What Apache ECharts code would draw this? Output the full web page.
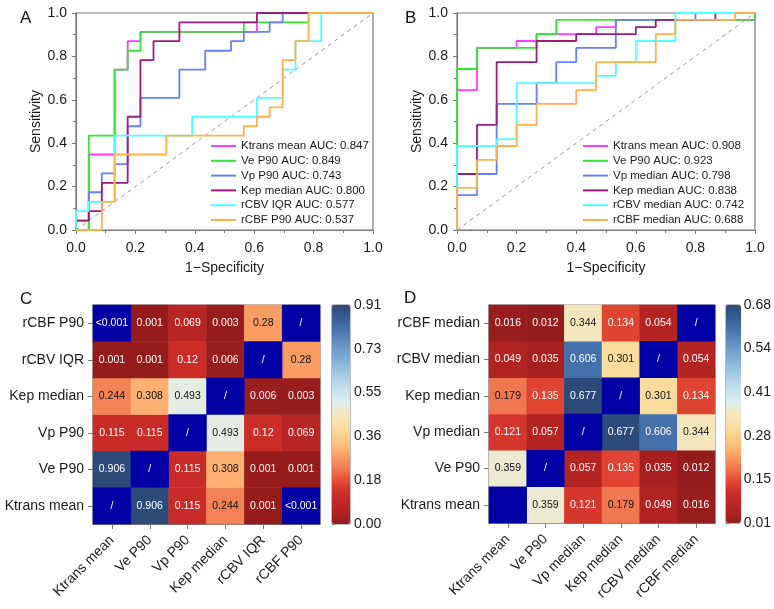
<!DOCTYPE html>
<html>
<head>
<meta charset="utf-8">
<script src="https://cdn.jsdelivr.net/npm/echarts@6/dist/echarts.min.js"></script>
<style>
  html, body { margin: 0; padding: 0; background: #fff; }
  #main { width: 774px; height: 609px; }
</style>
</head>
<body>
<div id="main"></div>
<script>
// ---- ROC curves, panel A ----
const rocA_ktrans = [[0,0],[0.043,0],[0.043,0.348],[0.13,0.348],[0.13,0.739],[0.174,0.739],[0.174,0.87],[0.217,0.87],[0.217,0.913],[0.609,0.913],[0.609,1],[1,1]];
const rocA_ve = [[0,0],[0.043,0],[0.043,0.435],[0.13,0.435],[0.13,0.739],[0.174,0.739],[0.174,0.826],[0.217,0.826],[0.217,0.913],[0.565,0.913],[0.565,0.957],[0.783,0.957],[0.783,1],[1,1]];
const rocA_vp = [[0,0],[0,0.043],[0.043,0.043],[0.043,0.174],[0.087,0.174],[0.087,0.261],[0.13,0.261],[0.13,0.304],[0.174,0.304],[0.174,0.478],[0.217,0.478],[0.217,0.609],[0.348,0.609],[0.348,0.739],[0.435,0.739],[0.435,0.826],[0.522,0.826],[0.522,0.87],[0.565,0.87],[0.565,0.913],[0.652,0.913],[0.652,0.957],[0.696,0.957],[0.696,1],[1,1]];
const rocA_kep = [[0,0],[0,0.043],[0.043,0.043],[0.043,0.087],[0.087,0.087],[0.087,0.217],[0.174,0.217],[0.174,0.522],[0.217,0.522],[0.217,0.783],[0.261,0.783],[0.261,0.87],[0.348,0.87],[0.348,0.957],[0.609,0.957],[0.609,1],[1,1]];
const rocA_rcbv = [[0,0],[0,0.087],[0.043,0.087],[0.043,0.13],[0.13,0.13],[0.13,0.435],[0.391,0.435],[0.391,0.522],[0.609,0.522],[0.609,0.609],[0.696,0.609],[0.696,0.739],[0.739,0.739],[0.739,0.87],[0.826,0.87],[0.826,1],[1,1]];
const rocA_rcbf = [[0,0],[0.087,0],[0.087,0.13],[0.13,0.13],[0.13,0.348],[0.304,0.348],[0.304,0.435],[0.565,0.435],[0.565,0.478],[0.609,0.478],[0.609,0.522],[0.652,0.522],[0.652,0.565],[0.696,0.565],[0.696,0.783],[0.739,0.783],[0.739,0.87],[0.783,0.87],[0.783,1],[1,1]];
const namesA = ['Ktrans mean AUC: 0.847','Ve P90 AUC: 0.849','Vp P90 AUC: 0.743','Kep median AUC: 0.800','rCBV IQR AUC: 0.577','rCBF P90 AUC: 0.537'];

// ---- ROC curves, panel B ----
const rocB_ktrans = [[0,0],[0,0.645],[0.067,0.645],[0.067,0.839],[0.2,0.839],[0.2,0.871],[0.267,0.871],[0.267,0.903],[0.467,0.903],[0.467,0.935],[0.533,0.935],[0.533,0.968],[1,0.968],[1,1]];
const rocB_ve = [[0,0],[0,0.742],[0.067,0.742],[0.067,0.839],[0.267,0.839],[0.267,0.903],[0.333,0.903],[0.333,0.968],[1,0.968],[1,1]];
const rocB_vp = [[0,0],[0,0.161],[0.067,0.161],[0.067,0.258],[0.133,0.258],[0.133,0.581],[0.267,0.581],[0.267,0.677],[0.333,0.677],[0.333,0.774],[0.4,0.774],[0.4,0.839],[0.533,0.839],[0.533,0.968],[0.8,0.968],[0.8,1],[1,1]];
const rocB_kep = [[0,0],[0,0.258],[0.067,0.258],[0.067,0.484],[0.133,0.484],[0.133,0.774],[0.267,0.774],[0.267,0.871],[0.4,0.871],[0.4,0.903],[0.6,0.903],[0.6,0.935],[0.667,0.935],[0.667,0.968],[0.867,0.968],[0.867,1],[1,1]];
const rocB_rcbv = [[0,0],[0,0.387],[0.133,0.387],[0.133,0.419],[0.2,0.419],[0.2,0.677],[0.467,0.677],[0.467,0.71],[0.533,0.71],[0.533,0.774],[0.6,0.774],[0.6,0.871],[0.733,0.871],[0.733,1],[1,1]];
const rocB_rcbf = [[0,0],[0,0.194],[0.067,0.194],[0.067,0.323],[0.133,0.323],[0.133,0.387],[0.2,0.387],[0.2,0.484],[0.267,0.484],[0.267,0.581],[0.4,0.581],[0.4,0.645],[0.467,0.645],[0.467,0.774],[0.667,0.774],[0.667,0.903],[0.733,0.903],[0.733,0.968],[0.933,0.968],[0.933,1],[1,1]];
const namesB = ['Ktrans mean AUC: 0.908','Ve P90 AUC: 0.923','Vp median AUC: 0.798','Kep median AUC: 0.838','rCBV median AUC: 0.742','rCBF median AUC: 0.688'];

const rocColors = ['#ff3cff','#33e633','#6680ff','#9a1d78','#4dffff','#ffb04a'];
const diagonal = [[0,0],[1,1]];

// ---- p-value matrices (rows bottom -> top, same order as categories) ----
const catsC = ['Ktrans mean','Ve P90','Vp P90','Kep median','rCBV IQR','rCBF P90'];
const pC_ktrans = ['/', 0.906, 0.115, 0.244, 0.001, '<0.001'];
const pC_ve     = [0.906, '/', 0.115, 0.308, 0.001, 0.001];
const pC_vp     = [0.115, 0.115, '/', 0.493, 0.12, 0.069];
const pC_kep    = [0.244, 0.308, 0.493, '/', 0.006, 0.003];
const pC_rcbv   = [0.001, 0.001, 0.12, 0.006, '/', 0.28];
const pC_rcbf   = ['<0.001', 0.001, 0.069, 0.003, 0.28, '/'];
const barTicksC = ['0.00','0.18','0.36','0.55','0.73','0.91'];

const catsD = ['Ktrans mean','Ve P90','Vp median','Kep median','rCBV median','rCBF median'];
const pD_ktrans = ['', 0.359, 0.121, 0.179, 0.049, 0.016];
const pD_ve     = [0.359, '/', 0.057, 0.135, 0.035, 0.012];
const pD_vp     = [0.121, 0.057, '/', 0.677, 0.606, 0.344];
const pD_kep    = [0.179, 0.135, 0.677, '/', 0.301, 0.134];
const pD_rcbv   = [0.049, 0.035, 0.606, 0.301, '/', 0.054];
const pD_rcbf   = [0.016, 0.012, 0.344, 0.134, 0.054, '/'];
const barTicksD = ['0.01','0.15','0.28','0.41','0.54','0.68'];

const heatColors = ['#951c1c','#ae2222','#c02826','#d02e29','#e54f36','#f07650','#f89860','#fdb877','#fbcf8c','#f8e0a4','#f5e7bd','#e0eeec','#cbe3ec','#b5d5e8','#9ac4e0','#80aed6','#6c9ccc','#5684bb','#426ea8','#36598e','#2c4a77'];
const naColor = '#0000a4';

const FONT = "'Liberation Sans', Arial, Helvetica, sans-serif";
const GREY = '#7a7a7a';

let chart = echarts.init(document.getElementById('main'), null, {renderer: 'canvas'});

function rocAxes(idx, isY, name) {
    return {
        type: 'value', gridIndex: idx, min: 0, max: 1, interval: 0.2,
        name: name, nameLocation: 'middle', nameGap: isY ? 33 : 31,
        nameTextStyle: {fontSize: 14, color: '#1a1a1a'},
        axisLine: {show: true, lineStyle: {color: GREY, width: 1.2}},
        axisTick: {show: true, length: 4, lineStyle: {color: GREY}},
        minorTick: {show: true, splitNumber: 2, length: 3, lineStyle: {color: GREY}},
        splitLine: {show: false},
        axisLabel: {fontSize: 14, color: '#1a1a1a', margin: isY ? 9 : 11, formatter: v => v.toFixed(1)}
    };
}

function rocSeries(data, i, names, axis) {
    return {
        type: 'line', name: names[i], data: data,
        xAxisIndex: axis, yAxisIndex: axis,
        symbol: 'none', animation: false, silent: true,
        itemStyle: {color: rocColors[i]},
        lineStyle: {color: rocColors[i], width: 1.8}
    };
}

function diagSeries(axis) {
    return {
        type: 'line', data: diagonal, xAxisIndex: axis, yAxisIndex: axis,
        symbol: 'none', silent: true, animation: false,
        lineStyle: {color: '#9a9a9a', width: 1, type: [4, 4]}
    };
}

// numeric cells go to the coloured heatmap, text cells ("/", "<0.001") to the navy one
function heatData(rows, min, max, wantNumbers) {
    let out = [];
    rows.forEach((row, i) => {
        row.forEach((c, j) => {
            let num = typeof c === 'number';
            if (num !== wantNumbers) return;
            let t = num ? (c - min) / (max - min) : 0;
            out.push({
                value: [j, i, num ? c : 1],
                txt: num ? String(c) : c,
                dark: num && t > 0.22 && t < 0.75
            });
        });
    });
    return out;
}

function heatCatAxes(idx, cats, isY) {
    return {
        type: 'category', gridIndex: idx, data: cats,
        axisLine: {show: true, lineStyle: {color: GREY, width: 1.2}},
        axisTick: {show: true, alignWithLabel: true, length: 5, lineStyle: {color: GREY}},
        splitLine: {show: false},
        axisLabel: isY
            ? {fontSize: 14, color: '#1a1a1a', margin: 9}
            : {fontSize: 14, color: '#1a1a1a', margin: 14, rotate: 45, interval: 0}
    };
}

function barAxes(idx, ticks) {
    return {
        type: 'category', gridIndex: idx, data: ticks, boundaryGap: false,
        position: 'right',
        axisLine: {show: false},
        axisTick: {show: true, length: 3, lineStyle: {color: GREY}},
        axisLabel: {fontSize: 14, color: '#1a1a1a', margin: 4, interval: 0},
        splitLine: {show: false}
    };
}

const heatLabel = {
    show: true,
    formatter: p => (p.data.dark ? '{k|' : '{w|') + p.data.txt + '}',
    rich: {
        w: {color: '#ffffff', fontSize: 10.5, fontFamily: FONT},
        k: {color: '#111111', fontSize: 10.5, fontFamily: FONT}
    }
};

function legendAt(names, left) {
    return {
        data: names, orient: 'vertical', left: left, top: 139,
        icon: 'rect', itemWidth: 25, itemHeight: 2, itemGap: 0.8, padding: 0,
        textStyle: {fontSize: 11.5, color: '#1a1a1a', lineHeight: 14},
        selectedMode: false
    };
}

let matrixC = [pC_ktrans, pC_ve, pC_vp, pC_kep, pC_rcbv, pC_rcbf];
let matrixD = [pD_ktrans, pD_ve, pD_vp, pD_kep, pD_rcbv, pD_rcbf];
let minC = 0, maxC = 0.91, minD = 0.012, maxD = 0.677;

let option = {
    animation: false,
    backgroundColor: '#ffffff',
    textStyle: {fontFamily: FONT},
    graphic: [
        {type: 'text', left: 20, top: 10, style: {text: 'A', fontSize: 17, fill: '#111', fontFamily: FONT}},
        {type: 'text', left: 405, top: 10, style: {text: 'B', fontSize: 17, fill: '#111', fontFamily: FONT}},
        {type: 'text', left: 20, top: 291, style: {text: 'C', fontSize: 17, fill: '#111', fontFamily: FONT}},
        {type: 'text', left: 404, top: 290, style: {text: 'D', fontSize: 17, fill: '#111', fontFamily: FONT}}
    ],
    grid: [
        {left: 76, top: 13, width: 297, height: 217, show: true, borderColor: GREY, borderWidth: 1.2},
        {left: 457, top: 13, width: 298, height: 217, show: true, borderColor: GREY, borderWidth: 1.2},
        {left: 93, top: 305, width: 227, height: 219, show: true, borderColor: GREY, borderWidth: 1.2},
        {left: 489, top: 305, width: 226, height: 218, show: true, borderColor: GREY, borderWidth: 1.2},
        {left: 332, top: 305, width: 18, height: 219, show: true, borderColor: GREY, borderWidth: 1},
        {left: 726, top: 305, width: 15, height: 218, show: true, borderColor: GREY, borderWidth: 1}
    ],
    xAxis: [
        rocAxes(0, false, '1\u2212Specificity'),
        rocAxes(1, false, '1\u2212Specificity'),
        heatCatAxes(2, catsC, false),
        heatCatAxes(3, catsD, false),
        {type: 'value', gridIndex: 4, show: false},
        {type: 'value', gridIndex: 5, show: false}
    ],
    yAxis: [
        rocAxes(0, true, 'Sensitivity'),
        rocAxes(1, true, 'Sensitivity'),
        heatCatAxes(2, catsC, true),
        heatCatAxes(3, catsD, true),
        barAxes(4, barTicksC),
        barAxes(5, barTicksD)
    ],
    legend: [legendAt(namesA, 211), legendAt(namesB, 583)],
    visualMap: [
        {
            type: 'continuous', seriesIndex: 14, min: minC, max: maxC,
            inRange: {color: heatColors},
            orient: 'vertical', left: 332, top: 305, itemWidth: 18, itemHeight: 219,
            calculable: false, padding: 0, hoverLink: false
        },
        {
            type: 'continuous', seriesIndex: 15, min: minD, max: maxD,
            inRange: {color: heatColors},
            orient: 'vertical', left: 726, top: 305, itemWidth: 15, itemHeight: 218,
            calculable: false, padding: 0, hoverLink: false
        },
        {
            type: 'piecewise', seriesIndex: [16, 17], show: false,
            pieces: [{min: 0, max: 2, color: naColor}]
        }
    ],
    series: [
        diagSeries(0),
        rocSeries(rocA_ktrans, 0, namesA, 0),
        rocSeries(rocA_ve, 1, namesA, 0),
        rocSeries(rocA_vp, 2, namesA, 0),
        rocSeries(rocA_kep, 3, namesA, 0),
        rocSeries(rocA_rcbv, 4, namesA, 0),
        rocSeries(rocA_rcbf, 5, namesA, 0),
        diagSeries(1),
        rocSeries(rocB_ktrans, 0, namesB, 1),
        rocSeries(rocB_ve, 1, namesB, 1),
        rocSeries(rocB_vp, 2, namesB, 1),
        rocSeries(rocB_kep, 3, namesB, 1),
        rocSeries(rocB_rcbv, 4, namesB, 1),
        rocSeries(rocB_rcbf, 5, namesB, 1),
        {
            type: 'heatmap', xAxisIndex: 2, yAxisIndex: 2,
            data: heatData(matrixC, minC, maxC, true),
            label: heatLabel, emphasis: {disabled: true}, silent: true
        },
        {
            type: 'heatmap', xAxisIndex: 3, yAxisIndex: 3,
            data: heatData(matrixD, minD, maxD, true),
            label: heatLabel, emphasis: {disabled: true}, silent: true
        },
        {
            type: 'heatmap', xAxisIndex: 2, yAxisIndex: 2,
            data: heatData(matrixC, minC, maxC, false),
            label: heatLabel, emphasis: {disabled: true}, silent: true
        },
        {
            type: 'heatmap', xAxisIndex: 3, yAxisIndex: 3,
            data: heatData(matrixD, minD, maxD, false),
            label: heatLabel, emphasis: {disabled: true}, silent: true
        }
    ]
};

chart.setOption(option);
</script>
</body>
</html>
